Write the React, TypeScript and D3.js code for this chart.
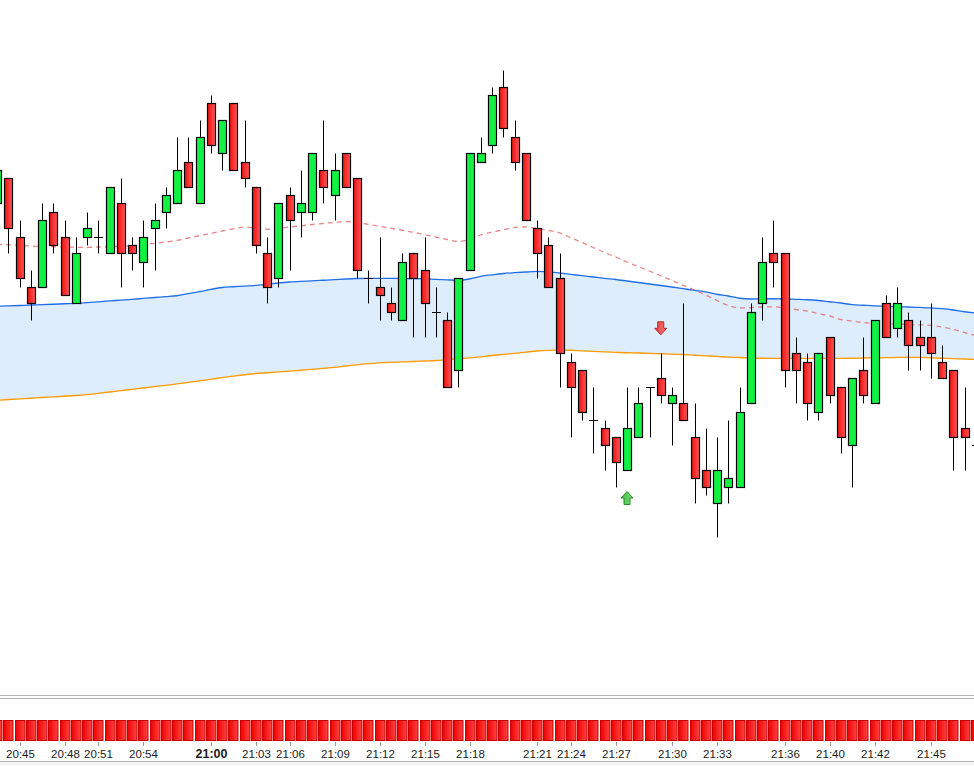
import * as d3 from 'd3';

// bars (one point per price step)
const opens = [2362, 2365, 2358, 2352, 2352, 2361, 2358, 2350, 2358, 2358, 2356, 2362, 2357, 2355, 2359, 2361, 2362, 2367, 2362, 2374, 2368, 2374, 2367, 2364, 2356, 2353, 2363, 2361, 2361, 2366, 2363, 2368, 2365, 2353, 2352, 2350, 2348, 2356, 2354, 2349, 2348, 2342, 2354, 2367, 2369, 2376, 2370, 2368, 2359, 2357, 2353, 2343, 2342, 2336, 2335, 2334, 2330, 2334, 2340, 2341, 2338, 2338, 2334, 2330, 2326, 2328, 2328, 2338, 2350, 2356, 2356, 2344, 2343, 2337, 2346, 2340, 2333, 2342, 2338, 2350, 2347, 2348, 2346, 2346, 2343, 2342, 2335, 2333];
const highs = [2366, 2365, 2360, 2354, 2362, 2362, 2360, 2358, 2361, 2360, 2364, 2365, 2358, 2360, 2362, 2364, 2370, 2370, 2372, 2375, 2372, 2374, 2372, 2364, 2358, 2362, 2364, 2366, 2368, 2372, 2368, 2368, 2365, 2354, 2358, 2352, 2356, 2356, 2358, 2352, 2349, 2353, 2368, 2370, 2376, 2378, 2372, 2368, 2360, 2358, 2356, 2344, 2342, 2340, 2336, 2334, 2340, 2340, 2340, 2344, 2340, 2350, 2338, 2335, 2334, 2336, 2340, 2350, 2358, 2360, 2356, 2346, 2344, 2344, 2346, 2340, 2341, 2346, 2348, 2351, 2352, 2349, 2348, 2350, 2345, 2342, 2340, 2333];
const lows = [2362, 2356, 2352, 2348, 2352, 2356, 2351, 2350, 2357, 2356, 2356, 2352, 2354, 2352, 2354, 2359, 2362, 2364, 2362, 2368, 2366, 2366, 2364, 2356, 2350, 2352, 2354, 2358, 2360, 2362, 2360, 2364, 2353, 2350, 2348, 2348, 2348, 2346, 2346, 2346, 2340, 2340, 2354, 2367, 2368, 2370, 2366, 2360, 2353, 2352, 2340, 2334, 2336, 2332, 2330, 2328, 2330, 2334, 2334, 2338, 2333, 2336, 2326, 2327, 2322, 2326, 2328, 2338, 2348, 2352, 2340, 2338, 2336, 2336, 2338, 2332, 2328, 2338, 2338, 2346, 2346, 2342, 2342, 2341, 2341, 2330, 2330, 2333];
const closes = [2366, 2359, 2353, 2350, 2360, 2357, 2351, 2356, 2359, 2358, 2364, 2356, 2356, 2358, 2360, 2363, 2366, 2364, 2370, 2369, 2372, 2366, 2365, 2357, 2352, 2362, 2360, 2362, 2368, 2364, 2366, 2364, 2354, 2353, 2351, 2349, 2355, 2353, 2350, 2349, 2340, 2353, 2368, 2368, 2375, 2371, 2367, 2360, 2356, 2352, 2344, 2340, 2337, 2336, 2333, 2331, 2335, 2338, 2340, 2339, 2339, 2336, 2329, 2328, 2330, 2329, 2337, 2349, 2355, 2355, 2342, 2342, 2338, 2344, 2339, 2334, 2341, 2339, 2348, 2346, 2350, 2345, 2345, 2344, 2341, 2334, 2334, 2333];

// tick volume per bar (every bar closes on the same count)
const volumes = [500, 500, 500, 500, 500, 500, 500, 500, 500, 500, 500, 500, 500, 500, 500, 500, 500, 500, 500, 500, 500, 500, 500, 500, 500, 500, 500, 500, 500, 500, 500, 500, 500, 500, 500, 500, 500, 500, 500, 500, 500, 500, 500, 500, 500, 500, 500, 500, 500, 500, 500, 500, 500, 500, 500, 500, 500, 500, 500, 500, 500, 500, 500, 500, 500, 500, 500, 500, 500, 500, 500, 500, 500, 500, 500, 500, 500, 500, 500, 500, 500, 500, 500, 500, 500, 500, 500, 500];

const upperBand = [2349.65, 2349.69, 2349.74, 2349.80, 2349.84, 2349.89, 2349.95, 2350.00, 2350.08, 2350.18, 2350.29, 2350.38, 2350.48, 2350.59, 2350.70, 2350.80, 2350.91, 2351.16, 2351.40, 2351.67, 2351.90, 2351.99, 2352.06, 2352.15, 2352.28, 2352.44, 2352.56, 2352.64, 2352.70, 2352.77, 2352.84, 2352.92, 2352.98, 2353.00, 2353.00, 2352.99, 2352.98, 2352.96, 2352.95, 2352.88, 2352.82, 2352.77, 2352.92, 2353.24, 2353.42, 2353.58, 2353.68, 2353.76, 2353.83, 2353.78, 2353.64, 2353.48, 2353.32, 2353.16, 2353.00, 2352.86, 2352.68, 2352.50, 2352.32, 2352.14, 2351.96, 2351.76, 2351.56, 2351.38, 2351.09, 2350.88, 2350.61, 2350.52, 2350.54, 2350.55, 2350.53, 2350.48, 2350.43, 2350.34, 2350.19, 2350.04, 2349.84, 2349.77, 2349.70, 2349.65, 2349.60, 2349.56, 2349.51, 2349.46, 2349.36, 2349.20, 2348.99, 2348.84];
const lowerBand = [2338.37, 2338.46, 2338.54, 2338.61, 2338.70, 2338.77, 2338.85, 2338.94, 2339.04, 2339.20, 2339.36, 2339.52, 2339.68, 2339.84, 2340.00, 2340.16, 2340.34, 2340.52, 2340.70, 2340.88, 2341.08, 2341.26, 2341.43, 2341.58, 2341.67, 2341.77, 2341.86, 2341.97, 2342.08, 2342.20, 2342.32, 2342.48, 2342.62, 2342.76, 2342.86, 2342.92, 2342.97, 2343.02, 2343.08, 2343.14, 2343.24, 2343.35, 2343.46, 2343.57, 2343.74, 2343.87, 2344.00, 2344.14, 2344.28, 2344.35, 2344.38, 2344.37, 2344.30, 2344.24, 2344.17, 2344.12, 2344.07, 2344.04, 2343.99, 2343.95, 2343.90, 2343.86, 2343.77, 2343.70, 2343.63, 2343.54, 2343.50, 2343.44, 2343.41, 2343.40, 2343.40, 2343.40, 2343.40, 2343.40, 2343.40, 2343.40, 2343.41, 2343.44, 2343.46, 2343.48, 2343.51, 2343.52, 2343.51, 2343.46, 2343.41, 2343.36, 2343.32, 2343.27];
const midLine = [2357.09, 2357.02, 2356.95, 2356.88, 2356.83, 2356.79, 2356.76, 2356.73, 2356.72, 2356.76, 2356.80, 2356.85, 2356.92, 2357.06, 2357.20, 2357.36, 2357.55, 2357.84, 2358.12, 2358.40, 2358.68, 2358.94, 2359.16, 2359.04, 2358.89, 2359.01, 2359.16, 2359.30, 2359.46, 2359.58, 2359.70, 2359.82, 2359.70, 2359.48, 2359.25, 2359.01, 2358.77, 2358.53, 2358.24, 2357.96, 2357.66, 2357.42, 2357.66, 2358.20, 2358.56, 2358.82, 2359.12, 2359.19, 2358.98, 2358.75, 2358.46, 2357.88, 2357.30, 2356.70, 2356.10, 2355.56, 2354.96, 2354.42, 2353.88, 2353.31, 2352.74, 2352.16, 2351.60, 2351.00, 2350.34, 2349.74, 2349.44, 2349.48, 2349.56, 2349.58, 2349.44, 2349.26, 2349.08, 2348.78, 2348.48, 2348.06, 2347.88, 2347.70, 2347.60, 2347.56, 2347.52, 2347.47, 2347.42, 2347.36, 2347.16, 2346.86, 2346.50, 2346.14];

const timeLabels = ['20:45', '20:48', '20:51', '20:54', '21:00', '21:03', '21:06', '21:09', '21:12', '21:15', '21:18', '21:21', '21:24', '21:27', '21:30', '21:33', '21:36', '21:40', '21:42', '21:45'];
const timeLabelBars = [2, 6, 9, 13, 19, 23, 26, 30, 34, 38, 42, 48, 51, 55, 60, 64, 70, 74, 78, 83];
const boldLabels = ['21:00'];

const signalBars = [56, 59];
const signalTypes = ['buy', 'sell'];

const W = 974;
const H = 766;
const PLOT_BOTTOM = 695;
const STEP = 11.25;

export default function App() {
  const n = opens.length;
  const x = d3.scaleBand<number>()
    .domain(d3.range(n))
    .range([-3 - STEP / 2, -3 - STEP / 2 + n * STEP]);
  const cx = (i: number) => x(i)! + x.bandwidth() / 2;
  const px = (i: number) => Math.round(cx(i)) + 0.5;
  const y = d3.scaleLinear().domain([2303, 2386.4]).range([PLOT_BOTTOM, 0]);
  const py = (v: number) => Math.round(y(v)) + 0.5;
  const vy = d3.scaleLinear().domain([0, d3.max(volumes)!]).range([741, 720]);

  const idx = d3.range(n);
  const band = d3.area<number>()
    .x((i) => cx(i))
    .y0((i) => y(lowerBand[i]))
    .y1((i) => y(upperBand[i]))
    .curve(d3.curveMonotoneX);
  const line = (vals: number[]) =>
    d3.line<number>().x((i) => cx(i)).y((i) => y(vals[i])).curve(d3.curveMonotoneX)(idx)!;

  const bodyHalf = 4;

  return (
    <div style={{ position: 'absolute', left: 0, top: 0, width: W, height: H, background: '#fff' }}>
      <svg width={W} height={H} viewBox={`0 0 ${W} ${H}`} style={{ display: 'block' }}>
        <defs>
          <linearGradient id="redBody" x1="0" x2="1" y1="0" y2="0">
            <stop offset="0%" stopColor="#ee1010" />
            <stop offset="100%" stopColor="#ff5858" />
          </linearGradient>
          <linearGradient id="volBar" x1="0" x2="1" y1="0" y2="0">
            <stop offset="0%" stopColor="#ee0000" />
            <stop offset="100%" stopColor="#ff4444" />
          </linearGradient>
          <linearGradient id="buyArrow" x1="0" x2="1" y1="0" y2="0">
            <stop offset="0%" stopColor="#3fbf3f" />
            <stop offset="100%" stopColor="#7ad87a" />
          </linearGradient>
          <linearGradient id="sellArrow" x1="0" x2="1" y1="0" y2="0">
            <stop offset="0%" stopColor="#e03a3a" />
            <stop offset="100%" stopColor="#ff7a7a" />
          </linearGradient>
          <clipPath id="plotClip">
            <rect x={0} y={0} width={W} height={PLOT_BOTTOM} />
          </clipPath>
        </defs>

        <rect x={0} y={0} width={W} height={H} fill="#fff" />

        <g clipPath="url(#plotClip)">
          {/* band between the two envelopes */}
          <path d={band(idx)!} fill="#deedfc" />
          <path d={line(upperBand)} fill="none" stroke="#1f6fe8" strokeWidth={1.3} />
          <path d={line(lowerBand)} fill="none" stroke="#ff9a00" strokeWidth={1.3} />
          <path d={line(midLine)} fill="none" stroke="#e26a6a" strokeOpacity={0.8} strokeWidth={1.3} strokeDasharray="5,4" />

          {/* candles */}
          {idx.map((i) => {
            const o = opens[i];
            const c = closes[i];
            const xc = px(i);
            const wick = (
              <line key="w" x1={xc} x2={xc} y1={py(highs[i])} y2={py(lows[i])} stroke="#000" strokeWidth={1} />
            );
            if (o === c) {
              return (
                <g key={i}>
                  {wick}
                  <line x1={xc - bodyHalf - 0.5} x2={xc + bodyHalf + 0.5} y1={py(o)} y2={py(o)} stroke="#000" strokeWidth={1} />
                </g>
              );
            }
            const top = py(Math.max(o, c));
            const bot = py(Math.min(o, c));
            return (
              <g key={i}>
                {wick}
                <rect
                  x={xc - bodyHalf}
                  y={top}
                  width={bodyHalf * 2}
                  height={bot - top}
                  fill={c > o ? '#12f243' : 'url(#redBody)'}
                  stroke="#000"
                  strokeWidth={1.2}
                />
              </g>
            );
          })}

          {/* signal arrows */}
          {signalBars.map((b, k) => {
            const xc = cx(b);
            if (signalTypes[k] === 'buy') {
              const t = y(lows[b]) + 21.5;
              return (
                <path
                  key={k}
                  d={`M${xc},${t} L${xc + 6},${t + 6.5} L${xc + 3},${t + 6.5} L${xc + 3},${t + 13} L${xc - 3},${t + 13} L${xc - 3},${t + 6.5} L${xc - 6},${t + 6.5} Z`}
                  fill="url(#buyArrow)"
                  stroke="#2a8a2a"
                  strokeWidth={1}
                />
              );
            }
            const bt = y(highs[b]) - 18.5;
            return (
              <path
                key={k}
                d={`M${xc},${bt} L${xc + 6},${bt - 6.5} L${xc + 3},${bt - 6.5} L${xc + 3},${bt - 13} L${xc - 3},${bt - 13} L${xc - 3},${bt - 6.5} L${xc - 6},${bt - 6.5} Z`}
                fill="url(#sellArrow)"
                stroke="#b02a2a"
                strokeWidth={1}
              />
            );
          })}
        </g>

        {/* panel separators */}
        <line x1={0} x2={W} y1={695.5} y2={695.5} stroke="#b4b4b4" />
        <line x1={0} x2={W} y1={698.5} y2={698.5} stroke="#b4b4b4" />

        {/* volume */}
        {idx.map((i) => (
          <rect
            key={i}
            x={Math.round(cx(i) - 4.8) + 0.5}
            y={vy(volumes[i]) + 0.5}
            width={9.5}
            height={vy(0) - vy(volumes[i]) - 1}
            fill="url(#volBar)"
            stroke="#c40000"
            strokeWidth={1}
          />
        ))}

        {/* time axis */}
        {timeLabelBars.map((b, k) => {
          const xc = px(b);
          const bold = boldLabels.includes(timeLabels[k]);
          return (
            <g key={k}>
              <line x1={xc} x2={xc} y1={742} y2={746} stroke="#999" />
              <text
                x={xc}
                y={757.5}
                textAnchor="middle"
                fontFamily="'Liberation Sans', Arial, sans-serif"
                fontSize={bold ? 12.5 : 11.5}
                fontWeight={bold ? 'bold' : 'normal'}
                fill="#1a1a1a"
              >
                {timeLabels[k]}
              </text>
            </g>
          );
        })}
        <line x1={0} x2={W} y1={761.5} y2={761.5} stroke="#b4b4b4" />
        <rect x={0} y={762} width={W} height={H - 762} fill="#f6f6f6" />
      </svg>
    </div>
  );
}
